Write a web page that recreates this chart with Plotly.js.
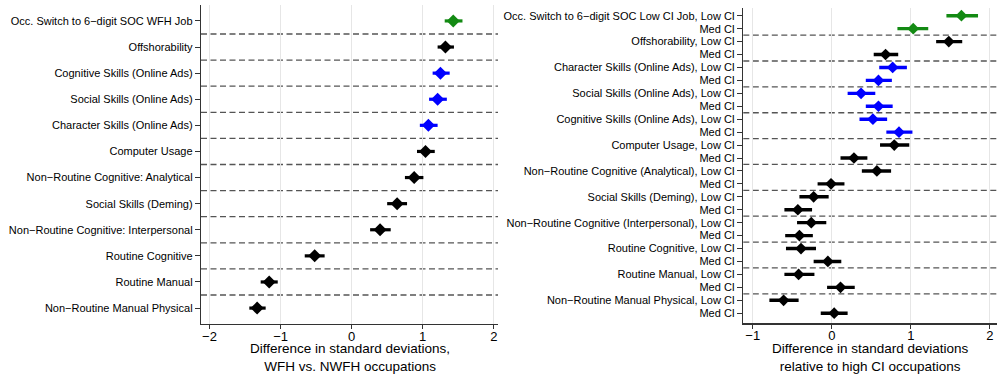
<!DOCTYPE html>
<html><head><meta charset="utf-8">
<script src="https://cdn.plot.ly/plotly-3.0.1.min.js"></script>
<style>html,body{margin:0;padding:0;background:#fff}</style>
</head><body><div id="chart" style="width:998px;height:374px"></div>
<script>
// ---- Left panel data ----
const leftLabels = [
  "Occ. Switch to 6\u2212digit SOC WFH Job",
  "Offshorability",
  "Cognitive Skills (Online Ads)",
  "Social Skills (Online Ads)",
  "Character Skills (Online Ads)",
  "Computer Usage",
  "Non\u2212Routine Cognitive: Analytical",
  "Social Skills (Deming)",
  "Non\u2212Routine Cognitive: Interpersonal",
  "Routine Cognitive",
  "Routine Manual",
  "Non\u2212Routine Manual Physical"
];
const leftEst = [1.43, 1.32, 1.25, 1.21, 1.08, 1.04, 0.88, 0.64, 0.40, -0.52, -1.16, -1.33];
const leftLo  = [1.31, 1.21, 1.14, 1.09, 0.96, 0.92, 0.75, 0.50, 0.26, -0.66, -1.28, -1.44];
const leftHi  = [1.56, 1.44, 1.38, 1.34, 1.21, 1.17, 1.01, 0.78, 0.55, -0.38, -1.04, -1.21];
const leftGroup = ["switch","other","online","online","online","other","other","other","other","other","other","other"];
const leftXTicks = [-2, -1, 0, 1, 2];
const leftXTitle = "Difference in standard deviations,<br>WFH vs. NWFH occupations";

// ---- Right panel data ----
const rightLabels = [
  "Occ. Switch to 6\u2212digit SOC Low CI Job, Low CI", "Med CI",
  "Offshorability, Low CI", "Med CI",
  "Character Skills (Online Ads), Low CI", "Med CI",
  "Social Skills (Online Ads), Low CI", "Med CI",
  "Cognitive Skills (Online Ads), Low CI", "Med CI",
  "Computer Usage, Low CI", "Med CI",
  "Non\u2212Routine Cognitive (Analytical), Low CI", "Med CI",
  "Social Skills (Deming), Low CI", "Med CI",
  "Non\u2212Routine Cognitive (Interpersonal), Low CI", "Med CI",
  "Routine Cognitive, Low CI", "Med CI",
  "Routine Manual, Low CI", "Med CI",
  "Non\u2212Routine Manual Physical, Low CI", "Med CI"
];
const rightEst = [1.64, 1.03, 1.48, 0.68, 0.77, 0.59, 0.37, 0.59, 0.52, 0.85, 0.79, 0.28, 0.57, -0.01, -0.23, -0.43, -0.26, -0.41, -0.39, -0.05, -0.42, 0.11, -0.61, 0.03];
const rightLo  = [1.45, 0.83, 1.32, 0.53, 0.60, 0.43, 0.20, 0.43, 0.35, 0.69, 0.61, 0.11, 0.38, -0.18, -0.41, -0.60, -0.44, -0.59, -0.58, -0.23, -0.60, -0.06, -0.79, -0.14];
const rightHi  = [1.85, 1.22, 1.65, 0.84, 0.95, 0.76, 0.55, 0.77, 0.70, 1.02, 0.98, 0.45, 0.75, 0.16, -0.04, -0.25, -0.07, -0.24, -0.20, 0.12, -0.22, 0.29, -0.42, 0.20];
const rightGroup = ["switch","switch","other","other","online","online","online","online","online","online",
  "other","other","other","other","other","other","other","other","other","other","other","other","other","other"];
const rightXTicks = [-1, 0, 1, 2];
const rightXTitle = "Difference in standard deviations<br>relative to high CI occupations";

// ---- styles ----
const groupColor = {switch: "#138a13", online: "#0000ff", other: "#000000"};
const FONT = "Liberation Sans, Arial, Helvetica, sans-serif";

function buildTraces(est, lo, hi, group, yoff, xa, ya, msize, thick) {
  const traces = [];
  Object.keys(groupColor).forEach(g => {
    const idx = est.map((v, i) => i).filter(i => group[i] === g);
    if (!idx.length) return;
    traces.push({
      type: "scatter", mode: "markers", xaxis: xa, yaxis: ya,
      x: idx.map(i => est[i]),
      y: idx.map(i => i + yoff),
      error_x: {type: "data", symmetric: false,
        array: idx.map(i => hi[i] - est[i]),
        arrayminus: idx.map(i => est[i] - lo[i]),
        color: groupColor[g], thickness: thick, width: 0},
      marker: {symbol: "diamond", size: msize, color: groupColor[g]},
      hoverinfo: "x+y", showlegend: false, cliponaxis: false
    });
  });
  return traces;
}

const data = [
  ...buildTraces(leftEst, leftLo, leftHi, leftGroup, 1, "x", "y", 10, 3.2),
  ...buildTraces(rightEst, rightLo, rightHi, rightGroup, 0, "x2", "y2", 9, 3.4)
];

const shapes = [];
for (let i = 0; i < leftLabels.length - 1; i++) {
  shapes.push({type: "line", xref: "x domain", yref: "y", x0: 0, x1: 1, y0: i + 1.5, y1: i + 1.5,
    line: {color: "#555555", width: 1.3, dash: "6px,3.5px"}, layer: "below"});
}
for (let i = 1; i < rightLabels.length - 1; i += 2) {
  shapes.push({type: "line", xref: "x2 domain", yref: "y2", x0: 0, x1: 1, y0: i + 0.5, y1: i + 0.5,
    line: {color: "#555555", width: 1.3, dash: "6px,3.5px"}, layer: "below"});
}

const xcommon = {
  showgrid: true, gridcolor: "#e6e6e6", gridwidth: 1, zeroline: false,
  showline: true, linecolor: "#333333", linewidth: 1.2,
  ticks: "outside", ticklen: 4, tickcolor: "#333333", ticklabelstandoff: -4,
  tickfont: {size: 13, color: "#000", family: FONT}, fixedrange: true
};
const ycommon = {
  showgrid: false, zeroline: false, showline: true, linecolor: "#333333", linewidth: 1.2,
  ticks: "outside", ticklen: 5, tickcolor: "#333333",
  tickfont: {size: 11, color: "#000", family: FONT}, fixedrange: true
};

const titleFont = {size: 13.5, family: FONT, color: "#000"};
function titleAnn(text, xref) {
  return {text: text, xref: xref, yref: "paper", x: 0.5, y: -0.004,
    xanchor: "center", yanchor: "bottom", borderpad: 0, showarrow: false, font: titleFont, align: "center"};
}

const layout = {
  width: 998, height: 374,
  margin: {l: 0, r: 0, t: 0, b: 0},
  paper_bgcolor: "#fff", plot_bgcolor: "#fff",
  font: {family: FONT, color: "#000"},
  showlegend: false,
  xaxis: Object.assign({}, xcommon, {
    domain: [201/998, 498/998], anchor: "y",
    range: [-2.12, 2.06], tickvals: leftXTicks
  }),
  yaxis: Object.assign({}, ycommon, {
    domain: [50/374, 369/374], anchor: "x",
    range: [12.61, 0.39],
    tickvals: leftLabels.map((t, i) => i + 1), ticktext: leftLabels
  }),
  xaxis2: Object.assign({}, xcommon, {
    domain: [743.3/998, 997/998], anchor: "y2",
    range: [-1.12, 2.09], tickvals: rightXTicks
  }),
  yaxis2: Object.assign({}, ycommon, {
    domain: [50.7/374, 366.3/374], anchor: "x2",
    range: [23.78, -0.62],
    tickvals: rightLabels.map((t, i) => i), ticktext: rightLabels
  }),
  annotations: [titleAnn(leftXTitle, "x domain"), titleAnn(rightXTitle, "x2 domain")],
  shapes: shapes
};

Plotly.newPlot("chart", data, layout, {displayModeBar: false, staticPlot: true});
</script></body></html>
